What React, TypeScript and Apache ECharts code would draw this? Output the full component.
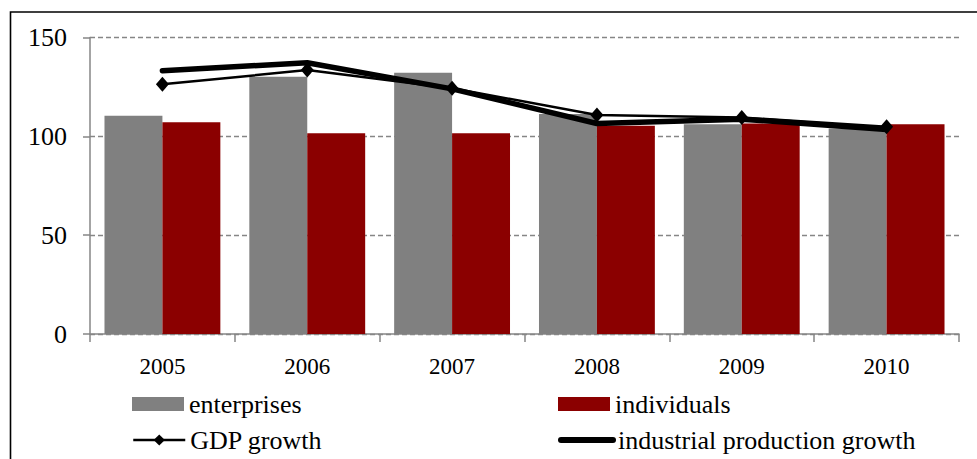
import React, { useEffect, useRef } from "react";
import * as echarts from "echarts";

const years = ["2005", "2006", "2007", "2008", "2009", "2010"];
const enterprises = [110.4, 130.2, 132.2, 111.3, 106.1, 104.0];
const individuals = [107.1, 101.5, 101.5, 105.4, 106.5, 106.1];
const gdpGrowth = [126.3, 133.5, 124.3, 110.8, 109.5, 104.9];
const industrialGrowth = [133.2, 137.2, 124.0, 106.5, 108.7, 103.5];
const yTicks = { min: 0, max: 150, interval: 50 };

const FONT = "Liberation Serif, Times New Roman, Tinos, DejaVu Serif, serif";
const AXIS_GRAY = "#868686";

export default function App() {
  const ref = useRef<HTMLDivElement>(null);

  useEffect(() => {
    if (!ref.current) return;
    const chart = echarts.init(ref.current, null, { renderer: "svg" });

    const legendText = { color: "#000", fontFamily: FONT, fontSize: 26, lineHeight: 26 };
    const legendBase = {
      padding: 0,
      itemWidth: 52,
      itemHeight: 14,
      itemGap: 0,
      textStyle: legendText,
      selectedMode: false,
    };

    chart.setOption({
      animation: false,
      backgroundColor: "#fff",
      textStyle: { fontFamily: FONT },
      graphic: [
        {
          type: "rect",
          shape: { x: 10.5, y: 12, width: 1000, height: 500 },
          style: { fill: "none", stroke: "#000", lineWidth: 1.6 },
          silent: true,
        },
      ],
      grid: { left: 90, right: 18, top: 37.5, bottom: 125 },
      legend: [
        { ...legendBase, data: [{ name: "enterprises", icon: "rect" }], left: 132, top: 391 },
        { ...legendBase, data: [{ name: "individuals", icon: "rect" }], left: 558, top: 391 },
        {
          ...legendBase,
          data: ["GDP growth"],
          left: 132,
          top: 427,
          lineStyle: { width: 2.5, color: "#000" },
        },
        {
          ...legendBase,
          data: ["industrial production growth"],
          left: 558,
          top: 427,
          itemStyle: { opacity: 0 },
          lineStyle: { width: 6, color: "#000", cap: "round", opacity: 1 },
        },
      ],
      xAxis: {
        type: "category",
        data: years,
        axisLine: { lineStyle: { color: AXIS_GRAY, width: 1.5 } },
        axisTick: { show: true, length: 8, lineStyle: { color: AXIS_GRAY, width: 1.5 } },
        axisLabel: { color: "#000", fontFamily: FONT, fontSize: 23, margin: 21 },
      },
      yAxis: {
        type: "value",
        min: yTicks.min,
        max: yTicks.max,
        interval: yTicks.interval,
        axisLine: { show: true, lineStyle: { color: AXIS_GRAY, width: 1.5 } },
        axisTick: { show: true, length: 7, lineStyle: { color: AXIS_GRAY, width: 1.5 } },
        axisLabel: { color: "#000", fontFamily: FONT, fontSize: 26, margin: 23 },
        splitLine: {
          show: true,
          lineStyle: { color: AXIS_GRAY, width: 1.3, type: [5, 3] },
        },
      },
      series: [
        {
          name: "enterprises",
          type: "bar",
          data: enterprises,
          barGap: "0%",
          barCategoryGap: "20%",
          itemStyle: { color: "#808080" },
        },
        {
          name: "individuals",
          type: "bar",
          data: individuals,
          barGap: "0%",
          barCategoryGap: "20%",
          itemStyle: { color: "#8B0000" },
        },
        {
          name: "industrial production growth",
          type: "line",
          data: industrialGrowth,
          symbol: "none",
          lineStyle: { color: "#000", width: 5.5, cap: "round", join: "round" },
          itemStyle: { color: "#000" },
          z: 3,
        },
        {
          name: "GDP growth",
          type: "line",
          data: gdpGrowth,
          symbol: "diamond",
          symbolSize: [13, 15],
          lineStyle: { color: "#000", width: 2.5 },
          itemStyle: { color: "#000" },
          z: 4,
        },
      ],
    });

    return () => chart.dispose();
  }, []);

  return (
    <div
      ref={ref}
      style={{ position: "absolute", left: 0, top: 0, width: 977, height: 459 }}
    />
  );
}
